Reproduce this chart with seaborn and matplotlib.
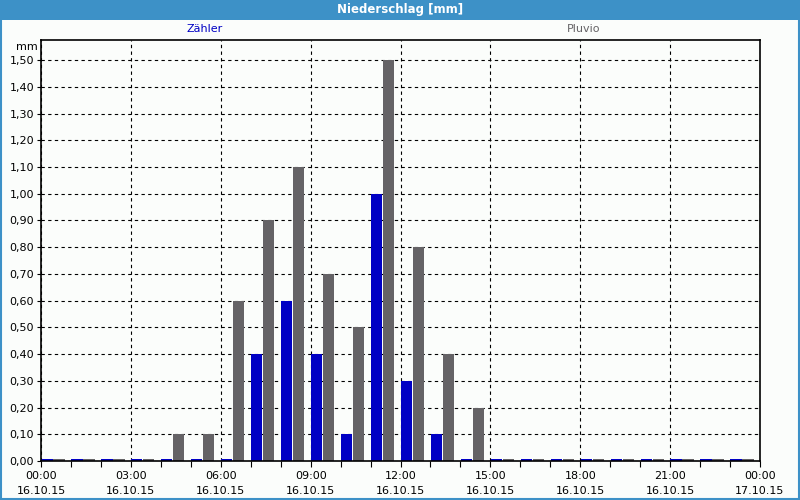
import numpy as np
import pandas as pd
import matplotlib
matplotlib.use("Agg")
import matplotlib.pyplot as plt
from matplotlib.patches import Rectangle
import seaborn as sns

hours = list(range(24))
zaehler = [0, 0, 0, 0, 0, 0, 0, 0.4, 0.6, 0.4, 0.1, 1.0, 0.3, 0.1, 0, 0, 0, 0, 0, 0, 0, 0, 0, 0]
pluvio = [0, 0, 0, 0, 0.1, 0.1, 0.6, 0.9, 1.1, 0.7, 0.5, 1.5, 0.8, 0.4, 0.2, 0, 0, 0, 0, 0, 0, 0, 0, 0]
series_names = ["Zähler", "Pluvio"]
series_colors = ["#0000C4", "#656366"]
tick_times = ["00:00", "03:00", "06:00", "09:00", "12:00", "15:00", "18:00", "21:00", "00:00"]
tick_dates = ["16.10.15"] * 8 + ["17.10.15"]
y_ticks = [round(0.1 * i, 2) for i in range(16)]

df = pd.DataFrame({
    "hour": hours * 2,
    "value": zaehler + pluvio,
    "series": [series_names[0]] * 24 + [series_names[1]] * 24,
})
# zero values are drawn as a hairline bar like in the original
df["shown"] = np.maximum(df["value"], 0.006)

sns.set_theme(style="white")
plt.rcParams["font.family"] = ["DejaVu Sans"]

fig = plt.figure(figsize=(8, 5), dpi=100)
fig.patch.set_facecolor("#FBFDFB")
W, H = 800, 500
ax = fig.add_axes([41 / W, 1 - 461 / H, (760 - 41) / W, (461 - 40) / H])
ax.set_facecolor("#FBFDFB")

sns.barplot(data=df, x="hour", y="shown", hue="series", hue_order=series_names,
            palette=series_colors, dodge=True, width=0.8, gap=0.06,
            linewidth=0, saturation=1, legend=False, ax=ax)

ax.set_xlim(-0.4, 23.6)
ax.set_ylim(0, 1.575)
ax.set_xlabel("")
ax.set_ylabel("")

major = [h - 0.4 for h in range(0, 25, 3)]
minor = [h - 0.4 for h in range(0, 25)]
ax.set_xticks(major)
ax.set_xticks(minor, minor=True)
ax.set_xticklabels([f"{t}\n{d}" for t, d in zip(tick_times, tick_dates)],
                   fontsize=8, linespacing=1.6, color="black")
ax.set_yticks(y_ticks)
ax.set_yticklabels([f"{v:.2f}".replace(".", ",") for v in y_ticks], fontsize=8,
                   color="black")
ax.tick_params(axis="x", which="both", direction="out", length=4, width=0.8,
               color="black", pad=3, bottom=True)
ax.tick_params(axis="y", which="both", direction="out", length=3, width=0.8,
               color="black", pad=2, left=True)

ax.grid(True, which="major", color="black", linestyle=(0, (3, 3)), linewidth=0.8)
ax.set_axisbelow(True)
for s in ax.spines.values():
    s.set_color("black")
    s.set_linewidth(1.2)

fig.text(38 / W, 1 - 47 / H, "mm", ha="right", va="center", fontsize=8,
         color="black")
ax.text(0.228, 1.015, series_names[0], transform=ax.transAxes, ha="center",
        va="bottom", fontsize=8, color=series_colors[0])
ax.text(0.755, 1.015, series_names[1], transform=ax.transAxes, ha="center",
        va="bottom", fontsize=8, color=series_colors[1])

# title bar and frame
fig.add_artist(Rectangle((0, 1 - 20 / H), 1, 20 / H, transform=fig.transFigure,
                         facecolor="#3D91C7", edgecolor="none"))
fig.text(0.5, 1 - 10 / H, "Niederschlag [mm]", ha="center", va="center",
         color="white", fontsize=8.5, fontweight="bold")
fig.add_artist(Rectangle((0.5 / W, 1.5 / H), 1 - 2 / W, 1 - 3 / H,
                         transform=fig.transFigure, facecolor="none",
                         edgecolor="#3D91C7", linewidth=1.5))

fig.savefig("out.png", dpi=100, facecolor=fig.get_facecolor())
